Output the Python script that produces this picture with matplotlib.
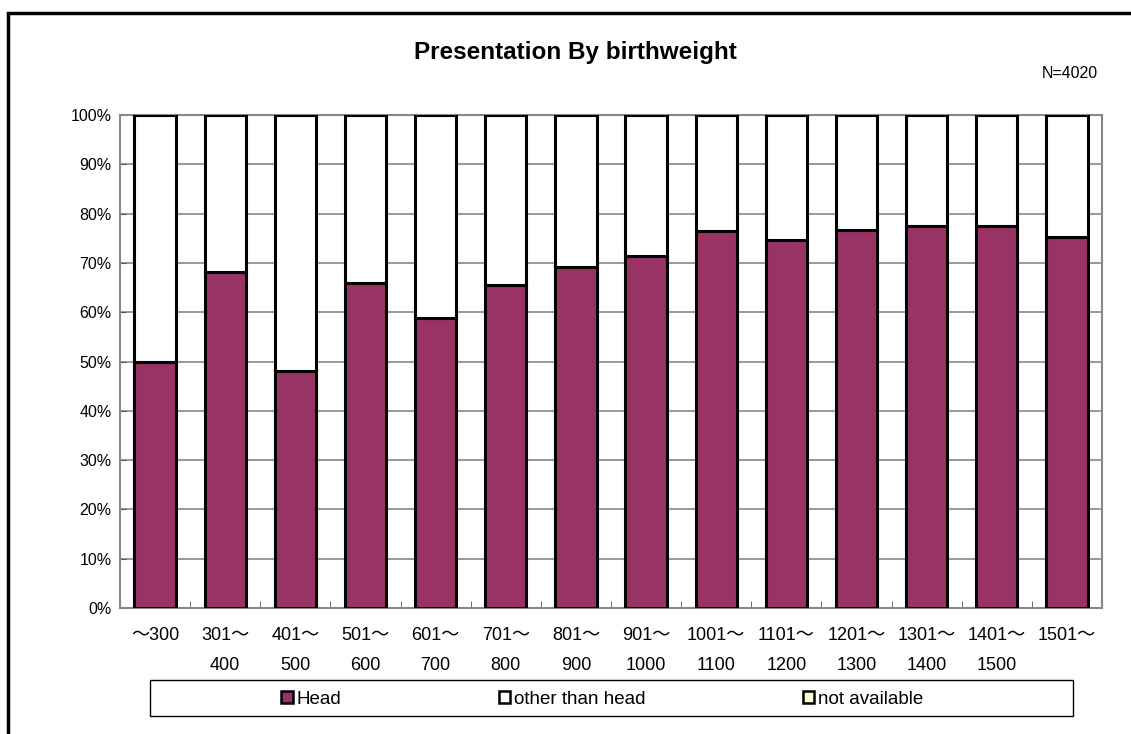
import numpy as np
import matplotlib
matplotlib.use("Agg")
import matplotlib.pyplot as plt
import matplotlib.patches as mpatches

plt.rcParams["font.family"] = ["Liberation Sans", "Noto Sans CJK JP"]

# ── data ──────────────────────────────────────────────────────────────────────
categories = ["～300", "301～\n400", "401～\n500", "501～\n600", "601～\n700",
              "701～\n800", "801～\n900", "901～\n1000", "1001～\n1100",
              "1101～\n1200", "1201～\n1300", "1301～\n1400", "1401～\n1500",
              "1501～"]
head      = [50.0, 68.2, 48.1, 66.0, 58.8, 65.5, 69.2, 71.4, 76.5, 74.6, 76.6, 77.5, 77.4, 75.3]
other     = [50.0, 31.8, 51.9, 34.0, 41.2, 34.5, 30.8, 28.6, 23.5, 25.4, 23.4, 22.5, 22.6, 24.7]
not_avail = [0, 0, 0, 0, 0, 0, 0, 0, 0, 0, 0, 0, 0, 0]

COLORS = {"head": "#993366", "other": "#FFFFFF", "na": "#FFFFCC"}

fig = plt.figure(figsize=(11.31, 7.34), dpi=100)
fig.patch.set_facecolor("white")

# outer chart frame (runs off the right/bottom edge like the original)
fig.patches.append(mpatches.Rectangle((8 / 1131, -0.1), 1.2, (734 - 13) / 734 + 0.1,
                                      transform=fig.transFigure, fill=False,
                                      edgecolor="black", linewidth=2.5))

ax = fig.add_axes([120 / 1131, 1 - 608 / 734, (1102 - 120) / 1131, (608 - 115) / 734])

x = np.arange(len(categories))
w = 0.59
kw = dict(width=w, edgecolor="black", linewidth=2.2, zorder=3)
ax.bar(x, head, color=COLORS["head"], label="Head", **kw)
ax.bar(x, other, bottom=head, color=COLORS["other"], label="other than head", **kw)
ax.bar(x, not_avail, bottom=np.array(head) + np.array(other), color=COLORS["na"],
       label="not available", **kw)

ax.set_xlim(-0.5, len(categories) - 0.5)
ax.set_ylim(0, 100)
ax.set_yticks(np.arange(0, 101, 10))
ax.set_yticklabels([f"{v}%" for v in range(0, 101, 10)], fontsize=11.5)
ax.yaxis.grid(True, color="#888888", linewidth=1.2, zorder=0)
ax.set_axisbelow(True)

ax.set_xticks(x)
ax.set_xticklabels(categories, fontsize=13, linespacing=1.95)
ax.set_xticks(np.arange(-0.5, len(categories), 1), minor=True)
ax.tick_params(axis="x", which="major", length=0, pad=14)
ax.tick_params(axis="x", which="minor", direction="in", length=5, color="#555555")
ax.tick_params(axis="y", direction="in", length=4, color="#555555", pad=6)

for s in ax.spines.values():
    s.set_color("#888888")
    s.set_linewidth(1.5)

fig.text(575 / 1131, 1 - 52 / 734, "Presentation By birthweight", ha="center",
         va="center", fontsize=17.5, fontweight="bold")
fig.text(1098 / 1131, 1 - 73 / 734, "N=4020", ha="right", va="center", fontsize=11.5)

# legend frame drawn separately, entries centred inside it
fig.patches.append(mpatches.Rectangle((150 / 1131, 1 - 716 / 734), (1073 - 150) / 1131,
                                      36 / 734, transform=fig.transFigure,
                                      fill=False, edgecolor="black", linewidth=1.0))
handles = [mpatches.Patch(facecolor=COLORS["head"], edgecolor="black", linewidth=1.8),
           mpatches.Patch(facecolor=COLORS["other"], edgecolor="black", linewidth=1.8),
           mpatches.Patch(facecolor=COLORS["na"], edgecolor="black", linewidth=1.8)]
leg = fig.legend(handles, ["Head", "other than head", "not available"],
                 loc="center", bbox_to_anchor=(602 / 1131, 1 - 699 / 734),
                 ncol=3, fontsize=13.5, frameon=False,
                 handlelength=0.6, handleheight=0.6, handletextpad=0.2,
                 columnspacing=8.4, borderaxespad=0)

fig.savefig("out.png", dpi=100, facecolor="white")
plt.close()
